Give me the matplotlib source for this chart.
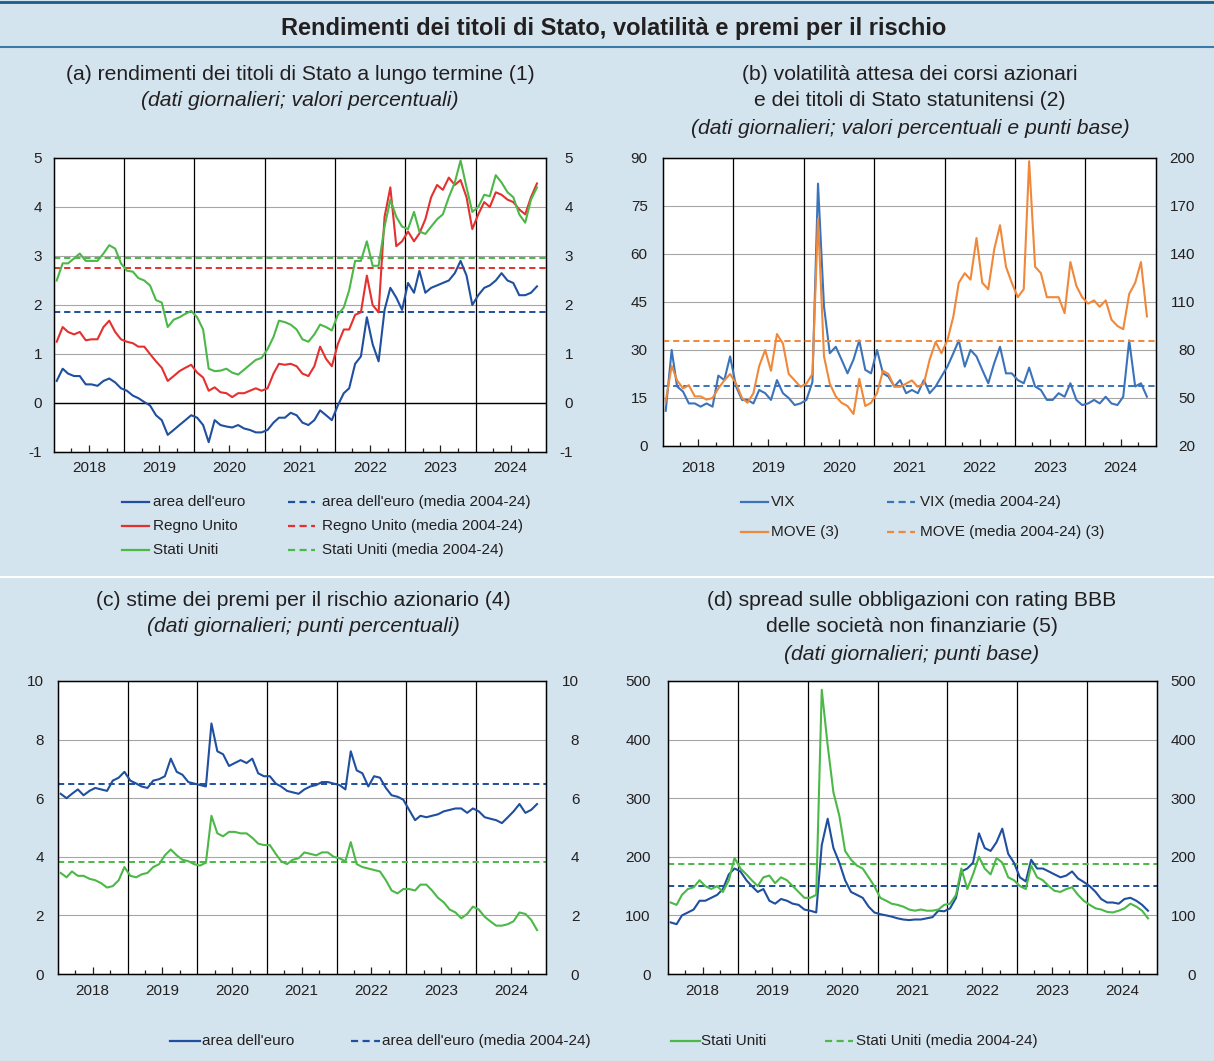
import datetime as dt
import numpy as np
import matplotlib
matplotlib.use("Agg")
import matplotlib.pyplot as plt
from matplotlib.lines import Line2D

plt.rcParams['font.family'] = ['Liberation Sans', 'DejaVu Sans']
plt.rcParams['text.color'] = '#231f20'
plt.rcParams['xtick.color'] = '#231f20'
plt.rcParams['ytick.color'] = '#231f20'
plt.rcParams['axes.unicode_minus'] = False

# monthly readings, Jan 2018 - Nov 2024 (mid-month)
months = np.arange('2018-01', '2024-12', dtype='datetime64[M]')
dates = months.astype('datetime64[D]') + np.timedelta64(14, 'D')

# (a) long-term government bond yields, %
ea_10y = [0.45, 0.70, 0.60, 0.55, 0.55, 0.38, 0.38, 0.35, 0.45, 0.50, 0.42, 0.30,
          0.25, 0.15, 0.10, 0.02, -0.05, -0.25, -0.35, -0.65, -0.55, -0.45, -0.35, -0.25,
          -0.30, -0.45, -0.80, -0.35, -0.45, -0.48, -0.50, -0.45, -0.52, -0.55, -0.60, -0.60,
          -0.55, -0.40, -0.30, -0.30, -0.20, -0.25, -0.40, -0.45, -0.35, -0.15, -0.25, -0.35,
          -0.05, 0.20, 0.30, 0.80, 0.95, 1.75, 1.20, 0.85, 1.90, 2.35, 2.15, 1.90,
          2.45, 2.25, 2.70, 2.25, 2.35, 2.40, 2.45, 2.50, 2.65, 2.90, 2.60, 2.00,
          2.20, 2.35, 2.40, 2.50, 2.65, 2.50, 2.45, 2.20, 2.20, 2.25, 2.38]
uk_10y = [1.25, 1.55, 1.45, 1.40, 1.45, 1.28, 1.30, 1.30, 1.55, 1.68, 1.45, 1.30,
          1.25, 1.22, 1.15, 1.15, 1.00, 0.85, 0.72, 0.45, 0.55, 0.65, 0.72, 0.78,
          0.62, 0.52, 0.25, 0.32, 0.22, 0.20, 0.12, 0.20, 0.20, 0.25, 0.30, 0.25,
          0.30, 0.60, 0.80, 0.78, 0.80, 0.75, 0.60, 0.55, 0.75, 1.15, 0.90, 0.75,
          1.20, 1.50, 1.50, 1.80, 1.85, 2.60, 2.00, 1.85, 3.80, 4.40, 3.20, 3.30,
          3.50, 3.30, 3.46, 3.75, 4.20, 4.45, 4.35, 4.60, 4.45, 4.55, 4.20, 3.55,
          3.85, 4.10, 4.00, 4.30, 4.25, 4.15, 4.10, 3.95, 3.85, 4.20, 4.48]
us_10y = [2.50, 2.85, 2.85, 2.95, 3.05, 2.90, 2.90, 2.90, 3.05, 3.22, 3.15, 2.85,
          2.70, 2.68, 2.55, 2.50, 2.40, 2.10, 2.05, 1.55, 1.70, 1.75, 1.82, 1.88,
          1.75, 1.50, 0.70, 0.65, 0.66, 0.70, 0.62, 0.58, 0.68, 0.78, 0.88, 0.92,
          1.10, 1.35, 1.68, 1.65, 1.60, 1.50, 1.30, 1.25, 1.40, 1.60, 1.55, 1.48,
          1.80, 1.95, 2.30, 2.90, 2.90, 3.30, 2.80, 2.80, 3.60, 4.15, 3.80, 3.60,
          3.55, 3.90, 3.50, 3.45, 3.60, 3.75, 3.85, 4.20, 4.50, 4.95, 4.40, 3.90,
          4.00, 4.25, 4.22, 4.65, 4.50, 4.30, 4.20, 3.85, 3.68, 4.15, 4.40]
mean_10y = {'ea': 1.86, 'uk': 2.76, 'us': 2.96}

# (b) implied volatility: VIX (left, %) and MOVE (right, bp)
vix = [11.0, 30.0, 18.6, 17.0, 13.3, 13.3, 12.3, 13.3, 12.3, 22.0, 20.6, 28.0,
       18.6, 14.4, 14.4, 13.3, 17.5, 16.5, 14.4, 20.6, 16.5, 15.0, 12.8, 13.3,
       14.4, 20.0, 82.0, 43.6, 29.0, 31.0, 27.0, 22.7, 27.0, 33.0, 23.8, 22.7,
       30.0, 22.7, 21.7, 18.6, 20.6, 16.5, 17.5, 16.5, 20.6, 16.5, 18.6, 21.7,
       24.8, 29.0, 33.0, 24.8, 30.0, 28.0, 23.8, 19.6, 25.9, 31.0, 22.7, 22.7,
       20.6, 19.6, 24.5, 18.6, 17.5, 14.4, 14.4, 16.5, 15.4, 19.6, 14.4, 12.8,
       13.3, 14.4, 13.3, 15.4, 13.3, 12.8, 15.4, 33.0, 18.6, 19.6, 15.4]
move = [48, 70, 61, 56, 58, 51, 51, 49, 50, 56, 61, 65,
        59, 50, 47, 53, 70, 80, 67, 90, 84, 65, 61, 57,
        59, 65, 162, 76, 59, 51, 47, 45, 40, 62, 45, 47,
        53, 67, 65, 57, 57, 59, 61, 57, 59, 74, 85, 78,
        86, 101, 122, 128, 124, 150, 122, 118, 143, 158, 132, 122,
        113, 118, 198, 132, 128, 113, 113, 113, 103, 135, 120, 113,
        109, 111, 107, 111, 99, 95, 93, 115, 122, 135, 101]
vix_mean = 18.9
move_mean = 85.5

# (c) equity risk premia, percentage points
erp_ea = [6.15, 6.00, 6.15, 6.30, 6.10, 6.25, 6.35, 6.30, 6.25, 6.60, 6.70, 6.90,
          6.60, 6.50, 6.40, 6.35, 6.60, 6.65, 6.75, 7.35, 6.90, 6.80, 6.55, 6.50,
          6.45, 6.40, 8.55, 7.60, 7.50, 7.10, 7.20, 7.30, 7.20, 7.35, 6.85, 6.75,
          6.75, 6.50, 6.40, 6.25, 6.20, 6.15, 6.30, 6.40, 6.45, 6.55, 6.55, 6.50,
          6.45, 6.30, 7.60, 6.95, 6.85, 6.40, 6.75, 6.70, 6.35, 6.10, 6.05, 5.95,
          5.60, 5.25, 5.40, 5.35, 5.40, 5.45, 5.55, 5.60, 5.65, 5.65, 5.50, 5.65,
          5.55, 5.35, 5.30, 5.25, 5.15, 5.35, 5.55, 5.80, 5.50, 5.60, 5.80]
erp_us = [3.45, 3.30, 3.50, 3.35, 3.35, 3.25, 3.20, 3.10, 2.95, 3.00, 3.20, 3.65,
          3.35, 3.30, 3.40, 3.45, 3.65, 3.75, 4.05, 4.25, 4.05, 3.90, 3.85, 3.75,
          3.70, 3.80, 5.40, 4.80, 4.70, 4.85, 4.85, 4.80, 4.80, 4.65, 4.45, 4.40,
          4.40, 4.10, 3.85, 3.75, 3.90, 3.95, 4.15, 4.10, 4.05, 4.15, 4.15, 4.00,
          3.95, 3.85, 4.50, 3.75, 3.65, 3.60, 3.55, 3.50, 3.20, 2.85, 2.75, 2.90,
          2.90, 2.85, 3.05, 3.05, 2.85, 2.60, 2.45, 2.20, 2.10, 1.90, 2.05, 2.30,
          2.20, 1.95, 1.80, 1.65, 1.65, 1.70, 1.80, 2.10, 2.05, 1.85, 1.50]
erp_mean = {'ea': 6.49, 'us': 3.83}

# (d) BBB non-financial corporate spreads, bp
bbb_ea = [88, 85, 100, 105, 110, 125, 125, 130, 135, 145, 170, 180,
          175, 160, 150, 140, 145, 125, 120, 128, 125, 120, 118, 110,
          108, 105, 220, 265, 215, 190, 160, 140, 135, 130, 115, 105,
          102, 100, 98, 95, 93, 92, 93, 93, 95, 97, 108, 107,
          112, 130, 175, 180, 190, 240, 215, 210, 225, 248, 205, 190,
          165, 158, 195, 180, 180, 175, 170, 165, 168, 175, 163, 157,
          150, 140, 128, 122, 122, 120, 128, 130, 125, 118, 108]
bbb_us = [122, 118, 135, 145, 148, 160, 150, 145, 150, 140, 160, 198,
          180, 170, 160, 150, 165, 168, 155, 165, 160, 150, 140, 130,
          130, 135, 485, 390, 310, 270, 210, 195, 185, 180, 165, 150,
          130, 125, 120, 118, 115, 110, 108, 110, 108, 108, 110, 118,
          120, 135, 180, 145, 170, 200, 180, 170, 198, 190, 165, 160,
          150, 145, 185, 165, 160, 150, 142, 140, 145, 148, 135, 125,
          118, 112, 110, 106, 105, 108, 112, 120, 115, 108, 95]
bbb_mean = {'ea': 150, 'us': 187}

W, H = 1214, 1061
BG = '#d3e4ee'
EA = '#1f4f9e'
UK = '#e4312f'
US = '#4cb848'
VIXC = '#3b73bb'
MOVEC = '#f0883a'
DASH = (0, (3.2, 2.0))
TSIZE = 15.2

fig = plt.figure(figsize=(W / 100, H / 100), dpi=100, facecolor=BG)


def px_axes(l, t, r, b):
    return fig.add_axes([l / W, 1 - b / H, (r - l) / W, (b - t) / H])


def ftext(x, y, s, **kw):
    fig.text(x / W, 1 - y / H, s, va='center', **kw)


def style(ax, ylim, yticks, lpad, rpad, xpad, rlim=None, rticks=None):
    ax.set_facecolor('white')
    ax.set_xlim(dt.date(2018, 1, 1), dt.date(2025, 1, 1))
    ax.set_ylim(ylim)
    ax.set_yticks(yticks)
    ax.grid(axis='y', color='#a6a6a6', lw=0.8)
    ax.set_axisbelow(True)
    for yr in range(2019, 2025):
        ax.axvline(dt.date(yr, 1, 1), color='black', lw=0.9, zorder=1.5)
    ax.set_xticks([dt.date(y, 7, 1) for y in range(2018, 2025)])
    ax.set_xticklabels([str(y) for y in range(2018, 2025)])
    ax.set_xticks([dt.date(y, m, 1) for y in range(2018, 2025) for m in (4, 10)], minor=True)
    ax.tick_params(axis='x', which='major', direction='in', length=5, width=0.9,
                   pad=xpad, labelsize=11)
    ax.tick_params(axis='x', which='minor', direction='in', length=3, width=0.9)
    ax.tick_params(axis='y', length=0, pad=lpad, labelsize=11)
    for sp in ax.spines.values():
        sp.set_linewidth(1.0)
    tw = ax.twinx()
    tw.set_ylim(rlim if rlim else ylim)
    tw.set_yticks(rticks if rticks else yticks)
    tw.tick_params(axis='y', length=0, pad=rpad, labelsize=11)
    for lab in tw.get_yticklabels():
        lab.set_horizontalalignment('right')
    return tw


def legend_item(x0, x1, y, color, ls, label, tx):
    fig.add_artist(Line2D([x0 / W, x1 / W], [1 - y / H] * 2, color=color, ls=ls, lw=1.6))
    ftext(tx, y, label, fontsize=11)


# header
fig.add_artist(Line2D([0, 1], [1 - 2 / H] * 2, color='#1d5c86', lw=2))
fig.add_artist(Line2D([0, 1], [1 - 47 / H] * 2, color='#3a7aa6', lw=1.5))
fig.add_artist(Line2D([0, 1], [1 - 577 / H] * 2, color='white', lw=1.5))
ftext(614, 28, 'Rendimenti dei titoli di Stato, volatilità e premi per il rischio',
      ha='center', fontsize=17, weight='bold')

# (a)
ax = px_axes(54, 158, 546, 452)
ax.plot(dates, ea_10y, color=EA, lw=1.5, zorder=3)
ax.plot(dates, uk_10y, color=UK, lw=1.5, zorder=3)
ax.plot(dates, us_10y, color=US, lw=1.5, zorder=3)
ax.axhline(mean_10y['us'], color=US, lw=1.4, ls=DASH, zorder=2)
ax.axhline(mean_10y['uk'], color=UK, lw=1.4, ls=DASH, zorder=2)
ax.axhline(mean_10y['ea'], color=EA, lw=1.4, ls=DASH, zorder=2)
ax.axhline(0, color='black', lw=1.0, zorder=1.6)
style(ax, (-1, 5), range(-1, 6), 8.5, 19.5, 6.5)
ftext(300, 75, '(a) rendimenti dei titoli di Stato a lungo termine (1)', ha='center', fontsize=TSIZE)
ftext(300, 101, '(dati giornalieri; valori percentuali)', ha='center', fontsize=TSIZE, style='italic')
legend_item(122, 149, 502, EA, '-', "area dell'euro", 153)
legend_item(122, 149, 526, UK, '-', 'Regno Unito', 153)
legend_item(122, 149, 550, US, '-', 'Stati Uniti', 153)
legend_item(288, 315, 502, EA, DASH, "area dell'euro (media 2004-24)", 322)
legend_item(288, 315, 526, UK, DASH, 'Regno Unito (media 2004-24)', 322)
legend_item(288, 315, 550, US, DASH, 'Stati Uniti (media 2004-24)', 322)

# (b)
ax = px_axes(663, 158, 1156, 446)
ax.plot(dates, vix, color=VIXC, lw=1.5, zorder=3)
ax.axhline(vix_mean, color=VIXC, lw=1.4, ls=DASH, zorder=2)
tw = style(ax, (0, 90), range(0, 91, 15), 11, 28, 11, (20, 200), range(20, 201, 30))
tw.plot(dates, move, color=MOVEC, lw=1.5, zorder=3)
tw.axhline(move_mean, color=MOVEC, lw=1.4, ls=DASH, zorder=2)
ftext(910, 75, '(b) volatilità attesa dei corsi azionari', ha='center', fontsize=TSIZE)
ftext(910, 101, 'e dei titoli di Stato statunitensi (2)', ha='center', fontsize=TSIZE)
ftext(910, 128, '(dati giornalieri; valori percentuali e punti base)', ha='center',
      fontsize=TSIZE, style='italic')
legend_item(741, 768, 502, VIXC, '-', 'VIX', 771)
legend_item(741, 768, 532, MOVEC, '-', 'MOVE (3)', 771)
legend_item(887, 915, 502, VIXC, DASH, 'VIX (media 2004-24)', 920)
legend_item(887, 915, 532, MOVEC, DASH, 'MOVE (media 2004-24) (3)', 920)

# (c)
ax = px_axes(58, 681, 546, 974)
ax.plot(dates, erp_ea, color=EA, lw=1.5, zorder=3)
ax.plot(dates, erp_us, color=US, lw=1.5, zorder=3)
ax.axhline(erp_mean['ea'], color=EA, lw=1.4, ls=DASH, zorder=2)
ax.axhline(erp_mean['us'], color=US, lw=1.4, ls=DASH, zorder=2)
style(ax, (0, 10), range(0, 11, 2), 10, 24, 7)
ftext(303, 601, '(c) stime dei premi per il rischio azionario (4)', ha='center', fontsize=TSIZE)
ftext(303, 627, '(dati giornalieri; punti percentuali)', ha='center', fontsize=TSIZE, style='italic')

# (d)
ax = px_axes(668, 681, 1157, 974)
ax.plot(dates, bbb_ea, color=EA, lw=1.5, zorder=3)
ax.plot(dates, bbb_us, color=US, lw=1.5, zorder=3)
ax.axhline(bbb_mean['ea'], color=EA, lw=1.4, ls=DASH, zorder=2)
ax.axhline(bbb_mean['us'], color=US, lw=1.4, ls=DASH, zorder=2)
style(ax, (0, 500), range(0, 501, 100), 12.5, 28, 7)
ftext(912, 601, '(d) spread sulle obbligazioni con rating BBB', ha='center', fontsize=TSIZE)
ftext(912, 627, 'delle società non finanziarie (5)', ha='center', fontsize=TSIZE)
ftext(912, 654, '(dati giornalieri; punti base)', ha='center', fontsize=TSIZE, style='italic')

legend_item(170, 200, 1041, EA, '-', "area dell'euro", 202)
legend_item(351, 380, 1041, EA, DASH, "area dell'euro (media 2004-24)", 382)
legend_item(671, 700, 1041, US, '-', 'Stati Uniti', 701)
legend_item(825, 853, 1041, US, DASH, 'Stati Uniti (media 2004-24)', 856)

fig.savefig('out.png', dpi=100, facecolor=BG)
